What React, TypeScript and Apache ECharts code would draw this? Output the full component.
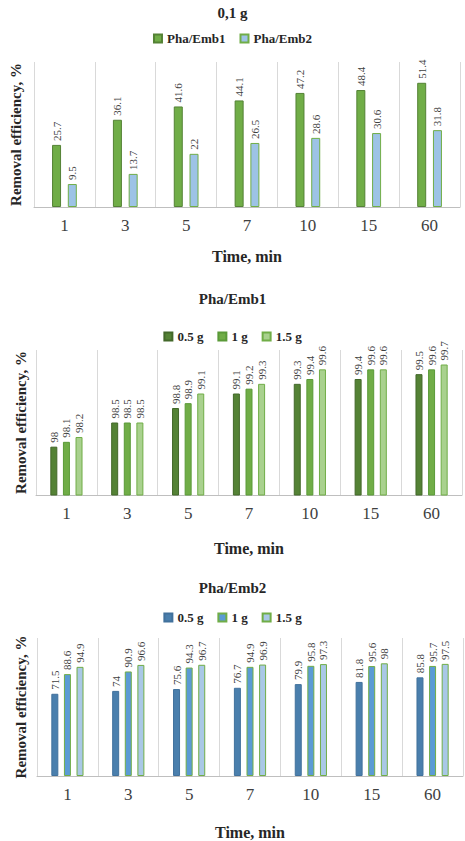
import React, { useEffect, useRef } from "react";
import * as echarts from "echarts";

const categories = ["1", "3", "5", "7", "10", "15", "60"];

// Chart 1: 0,1 g
const emb1_01g = [25.7, 36.1, 41.6, 44.1, 47.2, 48.4, 51.4];
const emb2_01g = [9.5, 13.7, 22, 26.5, 28.6, 30.6, 31.8];

// Chart 2: Pha/Emb1
const emb1_05g = [98, 98.5, 98.8, 99.1, 99.3, 99.4, 99.5];
const emb1_1g = [98.1, 98.5, 98.9, 99.2, 99.4, 99.6, 99.6];
const emb1_15g = [98.2, 98.5, 99.1, 99.3, 99.6, 99.6, 99.7];

// Chart 3: Pha/Emb2
const emb2_05g = [71.5, 74, 75.6, 76.7, 79.9, 81.8, 85.8];
const emb2_1g = [88.6, 90.9, 94.3, 94.9, 95.8, 95.6, 95.7];
const emb2_15g = [94.9, 96.6, 96.7, 96.9, 97.3, 98, 97.5];

const titles = ["0,1 g", "Pha/Emb1", "Pha/Emb2"];
const legend1 = ["Pha/Emb1", "Pha/Emb2"];
const legendMass = ["0.5 g", "1 g", "1.5 g"];
const yName = "Removal efficiency, %";
const xName = "Time, min";

const FONT = "Liberation Serif";

export default function App() {
  const ref = useRef<HTMLDivElement>(null);

  useEffect(() => {
    if (!ref.current) return;
    const chart = echarts.init(ref.current, null, { renderer: "svg" });

    const nameMap: Record<string, string> = {
      a1: legend1[0],
      a2: legend1[1],
      b1: legendMass[0],
      b2: legendMass[1],
      b3: legendMass[2],
      c1: legendMass[0],
      c2: legendMass[1],
      c3: legendMass[2],
    };

    const grids = [
      { left: 32, right: 5, top: 62, height: 145 },
      { left: 36, right: 3, top: 350, height: 145 },
      { left: 37, right: 2, top: 638, height: 145 },
    ];

    const xAxes = grids.map((_, i) => ({
      type: "category",
      gridIndex: i,
      data: categories,
      axisTick: { show: false },
      axisLine: { show: true, lineStyle: { color: "#bfbfbf", width: 1 } },
      splitLine: { show: true, lineStyle: { color: "#d9d9d9", width: 1 } },
      axisLabel: { fontFamily: FONT, fontSize: 17, color: "#404040", margin: 10 },
      name: xName,
      nameLocation: "middle",
      nameGap: [41, 45, 48][i],
      nameTextStyle: { fontFamily: FONT, fontSize: 16, fontWeight: "bold", color: "#262626" },
    }));

    const yRanges = [
      [0, 60],
      [97, 100],
      [0, 120],
    ];
    const yAxes = yRanges.map((r, i) => ({
      type: "value",
      gridIndex: i,
      min: r[0],
      max: r[1],
      axisLabel: { show: false },
      axisLine: { show: false },
      axisTick: { show: false },
      splitLine: { show: false },
      name: yName,
      nameLocation: "middle",
      nameRotate: 90,
      nameGap: [11, 8, 9][i],
      nameTextStyle: { fontFamily: FONT, fontSize: 15, fontWeight: "bold", color: "#262626" },
    }));

    const labelOpt = {
      show: true,
      position: "top",
      rotate: 90,
      align: "left",
      verticalAlign: "middle",
      distance: 4,
      fontFamily: FONT,
      fontSize: 11,
      color: "#404040",
    };

    const mk = (
      name: string,
      data: number[],
      idx: number,
      color: string,
      border: string,
      barWidth: number,
      barGap: string
    ) => ({
      name,
      type: "bar",
      xAxisIndex: idx,
      yAxisIndex: idx,
      data,
      barWidth,
      barGap,
      itemStyle: { color, borderColor: border, borderWidth: 1 },
      label: labelOpt,
    });

    const legendBase = {
      left: "center",
      icon: "rect",
      itemWidth: 8,
      itemHeight: 8,
      itemGap: 14,
      selectedMode: false,
      formatter: (n: string) => nameMap[n] || n,
      textStyle: { fontFamily: FONT, fontSize: 13, fontWeight: "bold", color: "#262626" },
    };

    chart.setOption({
      animation: false,
      backgroundColor: "#ffffff",
      textStyle: { fontFamily: FONT },
      title: titles.map((t, i) => ({
        text: t,
        left: "center",
        top: [0, 286, 575][i],
        textStyle: { fontFamily: FONT, fontSize: 15, fontWeight: "bold", color: "#262626" },
      })),
      legend: [
        { ...legendBase, top: 27, data: ["a1", "a2"] },
        { ...legendBase, top: 325, data: ["b1", "b2", "b3"] },
        { ...legendBase, top: 606, data: ["c1", "c2", "c3"] },
      ],
      grid: grids,
      xAxis: xAxes,
      yAxis: yAxes,
      series: [
        mk("a1", emb1_01g, 0, "#70ad47", "#548235", 9, "75%"),
        mk("a2", emb2_01g, 0, "#9dc3e6", "#70ad47", 9, "75%"),
        mk("b1", emb1_05g, 1, "#548235", "#43682a", 7, "80%"),
        mk("b2", emb1_1g, 1, "#70ad47", "#5a9a38", 7, "80%"),
        mk("b3", emb1_15g, 1, "#a9d18e", "#70ad47", 7, "80%"),
        mk("c1", emb2_05g, 2, "#4a7fad", "#41719c", 7, "80%"),
        mk("c2", emb2_1g, 2, "#5b9bd5", "#70ad47", 7, "80%"),
        mk("c3", emb2_15g, 2, "#a9c8e6", "#70ad47", 7, "80%"),
      ],
    });

    return () => chart.dispose();
  }, []);

  return (
    <div
      ref={ref}
      style={{ position: "fixed", left: 0, top: 0, width: 465, height: 841, background: "#fff" }}
    />
  );
}
